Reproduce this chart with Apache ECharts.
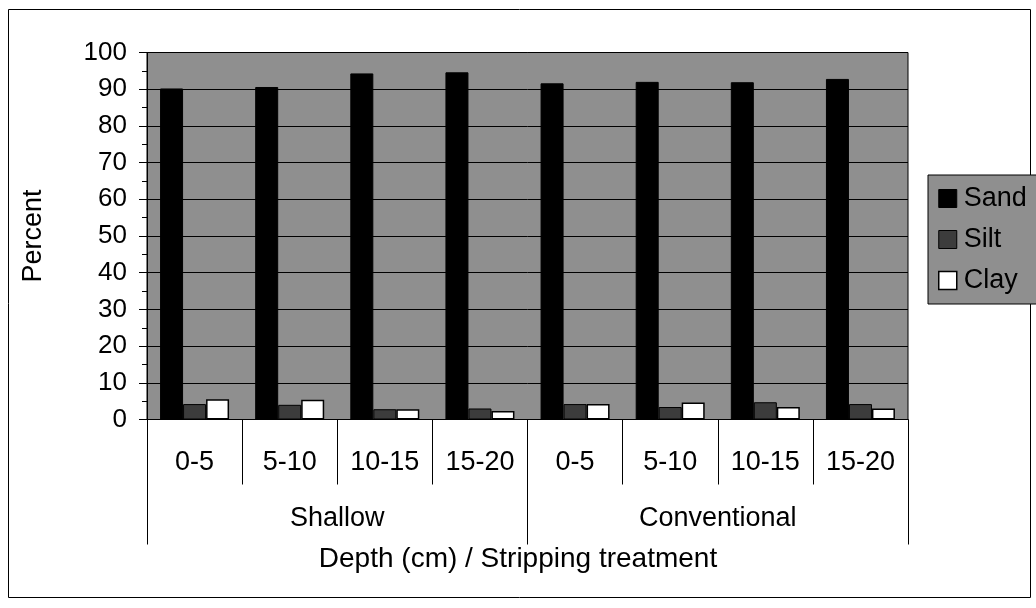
<!DOCTYPE html>
<html>
<head>
<meta charset="utf-8">
<script src="https://cdn.jsdelivr.net/npm/echarts@6/dist/echarts.min.js"></script>
<style>
  html, body { margin: 0; padding: 0; background: #fff; }
  #chart { width: 1036px; height: 608px; }
</style>
</head>
<body>
<div id="chart"></div>
<script>
// Particle-size distribution by depth and stripping treatment
const depths = ['0-5', '5-10', '10-15', '15-20', '0-5', '5-10', '10-15', '15-20'];
const treatments = ['Shallow', 'Conventional'];
const sand = [90.2, 90.6, 94.3, 94.6, 91.6, 92.0, 91.9, 92.8];
const silt = [4.2, 4.0, 2.8, 3.0, 4.2, 3.4, 4.7, 4.2];
const clay = [5.5, 5.4, 2.8, 2.3, 4.2, 4.6, 3.4, 3.0];
const yTicks = [0, 10, 20, 30, 40, 50, 60, 70, 80, 90, 100];

const FONT = '"Liberation Sans", Arial, sans-serif';
const FS = 26;
const PLOT_BG = '#8f8f8f';

const chart = echarts.init(document.getElementById('chart'));
chart.setOption({
  animation: false,
  backgroundColor: '#ffffff',
  textStyle: { fontFamily: FONT, color: '#000' },
  grid: {
    left: 147, right: 128, top: 52.5, bottom: 188.5,
    show: true, backgroundColor: PLOT_BG, borderColor: '#000', borderWidth: 1
  },
  legend: {
    orient: 'vertical',
    left: 928, top: 175,
    padding: [10, 30, 10, 10],
    itemGap: 14,
    itemWidth: 18, itemHeight: 18,
    backgroundColor: PLOT_BG,
    borderColor: '#000', borderWidth: 1,
    textStyle: { fontFamily: FONT, fontSize: 27, color: '#000', padding: [0, 0, 0, 2] },
    data: [
      { name: 'Sand', icon: 'rect', itemStyle: { color: '#000', borderColor: '#000', borderWidth: 1 } },
      { name: 'Silt', icon: 'rect', itemStyle: { color: '#3c3c3c', borderColor: '#000', borderWidth: 1 } },
      { name: 'Clay', icon: 'rect', itemStyle: { color: '#fff', borderColor: '#000', borderWidth: 1.5 } }
    ]
  },
  xAxis: [
    {
      type: 'category',
      data: depths,
      position: 'bottom',
      axisLine: { show: true, lineStyle: { color: '#000', width: 1 } },
      axisTick: { show: true, length: 65, lineStyle: { color: '#000', width: 1 } },
      axisLabel: { margin: 30, fontSize: 27, fontFamily: FONT, color: '#000' },
      splitLine: { show: false }
    },
    {
      type: 'category',
      data: treatments,
      position: 'bottom',
      axisLine: { show: false },
      axisTick: { show: true, length: 125, lineStyle: { color: '#000', width: 1 } },
      axisLabel: { margin: 86, fontSize: 27, fontFamily: FONT, color: '#000' },
      splitLine: { show: false }
    }
  ],
  yAxis: {
    type: 'value',
    min: yTicks[0], max: yTicks[yTicks.length - 1], interval: 10,
    name: 'Percent',
    nameLocation: 'middle',
    nameGap: 100,
    nameTextStyle: { fontSize: 27, fontFamily: FONT, color: '#000' },
    axisLine: { show: true, lineStyle: { color: '#000', width: 1 } },
    axisTick: { show: true, length: 8, lineStyle: { color: '#000', width: 1 } },
    minorTick: { show: true, splitNumber: 2, length: 5, lineStyle: { color: '#000', width: 1 } },
    axisLabel: { margin: 20, fontSize: FS, fontFamily: FONT, color: '#000' },
    splitLine: { show: true, lineStyle: { color: '#000', width: 1 } }
  },
  series: [
    {
      name: 'Sand', type: 'bar', xAxisIndex: 0, data: sand,
      barWidth: 23, barGap: '0%',
      itemStyle: { color: '#000', borderColor: '#000', borderWidth: 1 }
    },
    {
      name: 'Silt', type: 'bar', xAxisIndex: 0, data: silt,
      barWidth: 23, barGap: '0%',
      itemStyle: { color: '#3c3c3c', borderColor: '#000', borderWidth: 1 }
    },
    {
      name: 'Clay', type: 'bar', xAxisIndex: 0, data: clay,
      barWidth: 23, barGap: '0%',
      itemStyle: { color: '#fff', borderColor: '#000', borderWidth: 1.5 }
    }
  ],
  graphic: [
    {
      type: 'rect',
      shape: { x: 8.5, y: 9.5, width: 1022, height: 588 },
      style: { fill: 'none', stroke: '#000', lineWidth: 1 },
      silent: true, z: -1
    },
    {
      type: 'text',
      left: 'center', top: 545,
      x: -2,
      style: {
        text: 'Depth (cm) / Stripping treatment',
        font: '28px ' + FONT, fill: '#000'
      }
    }
  ]
});
</script>
</body>
</html>
